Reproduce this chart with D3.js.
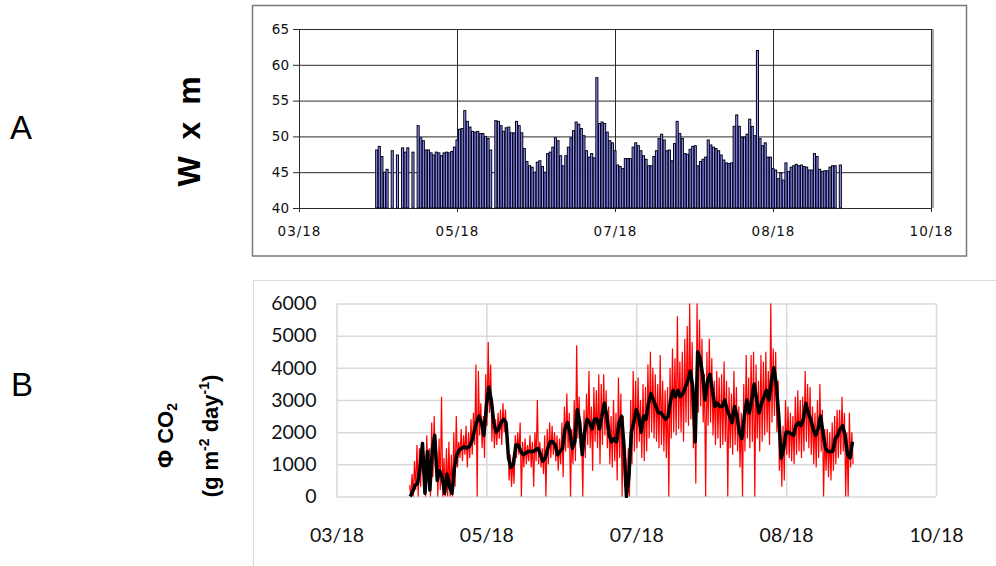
<!DOCTYPE html>
<html><head><meta charset="utf-8">
<script src="https://cdn.jsdelivr.net/npm/d3@7"></script>
<style>html,body{margin:0;padding:0;background:#fff;} svg{display:block;}</style>
</head><body>
<svg id="c" width="996" height="566"></svg>
<script>
// ---------- data ----------
const startDate = "2018-03-31";           // first day of both series
const xTickDates = ["2018-03-01","2018-05-01","2018-07-01","2018-08-31","2018-10-31"];
const xTickLabels = ["03/18","05/18","07/18","08/18","10/18"];
const yTicksA = [40,45,50,55,60,65];
const yTicksB = [0,1000,2000,3000,4000,5000,6000];

// Panel A: W x m, daily bars (null = no bar)
const wxm = [
 48.1,48.6,47.2,45.0,45.4,null,48.0,null,47.4,null,
 48.4,47.8,48.4,null,47.8,null,51.5,49.8,49.4,48.1,
 48.1,47.7,47.4,47.8,47.7,47.3,47.7,47.8,47.7,47.9,
 48.5,49.5,51.0,51.1,53.6,52.1,51.3,50.7,50.6,50.7,
 50.4,50.4,50.0,49.7,48.1,null,52.2,52.1,51.5,50.7,
 51.2,51.3,50.5,50.5,52.1,51.5,50.5,48.3,46.5,45.9,
 45.7,45.0,46.4,46.6,45.8,45.0,47.6,47.8,48.5,49.8,
 49.4,47.3,45.9,47.3,48.5,49.8,50.8,52.0,51.7,51.1,
 50.1,48.0,47.1,47.6,47.0,58.2,51.8,52.0,51.8,50.6,
 49.4,49.1,48.0,46.0,45.8,45.5,46.9,46.9,46.9,48.5,
 49.1,48.7,48.0,47.3,46.8,45.9,45.9,47.2,48.0,49.7,
 50.3,49.5,48.0,48.1,46.6,49.0,52.1,50.4,49.7,47.6,
 47.5,48.2,48.6,48.7,45.9,46.5,46.8,47.1,49.5,48.8,
 48.5,48.3,48.0,47.4,46.7,46.3,46.2,46.3,51.4,53.0,
 51.4,49.9,49.9,50.3,52.4,51.4,50.1,62.0,49.7,48.7,
 49.1,47.1,47.1,45.5,45.3,44.1,44.9,43.9,46.3,45.1,
 45.7,45.9,46.1,45.9,46.0,45.8,45.7,45.3,45.3,47.6,
 47.2,45.4,45.1,45.2,45.2,45.7,45.9,45.9,null,46.0
];

// Panel B: CO2 flux, daily smoothed mean (black)
const fluxMean = [
 0,150,350,400,900,1650,100,1400,200,1450,
 1900,500,800,600,100,700,300,100,900,1300,
 1450,1500,1550,1500,1550,1700,2000,2300,2500,2300,
 1900,2800,3400,3000,2300,2000,2100,2300,2400,2300,
 1200,900,1000,1600,1600,1400,1300,1350,1400,1400,
 1400,1450,1500,1300,1100,1200,1500,1700,1700,1600,
 1300,1400,1500,2100,2300,2000,1500,1700,2700,2300,
 1300,2000,2400,2300,2100,2400,2400,2100,2500,2900,
 2500,1900,1700,1800,1700,2300,2500,1600,0,600,
 2000,2300,2700,2500,2000,2500,2400,2900,3200,3000,
 2800,2600,2600,2500,2400,2500,3000,3300,3100,3300,
 3100,3200,3400,3600,3900,3400,1700,4500,4300,3800,
 3000,3600,3800,3300,2800,2900,2800,2800,3000,2700,
 2500,2300,2800,2500,2000,1800,2500,3000,2600,3000,
 3500,3000,2600,2900,3100,3300,3000,3600,4000,3500,
 2500,1200,1500,2000,2000,1950,1900,2200,2300,2200,
 2400,2900,2600,2400,2100,1900,2100,2500,2000,1500,
 1400,1400,1400,1800,1900,2100,2200,1900,1300,1200,1700
];
// Panel B: raw flux (red), daily upper and lower excursions
const fluxHigh = [
 350,700,1100,1600,1500,1700,1300,1900,1500,2300,
 2500,1400,1800,3100,1200,1500,1700,1300,2000,2500,
 1700,2100,1900,2200,2000,2400,2600,4100,3900,2900,
 2500,3800,4800,4100,2800,2400,2600,2700,2900,2700,
 1800,1300,1200,1900,2000,2300,1700,1800,1600,1900,
 1700,2000,3000,1700,1500,1900,2100,2300,2200,2000,
 1900,1800,2300,2800,3200,2600,2100,3000,4700,3100,
 2000,2700,3200,3900,2800,3400,3300,3800,3500,3800,
 3300,2800,2500,3000,2600,3700,3200,2500,1200,1500,
 3000,3900,3600,3700,3000,3500,3400,4100,4500,4000,
 3800,3500,4400,3600,3300,3400,4000,4600,4300,5600,
 4200,4500,4900,5300,6000,4800,3000,6000,5500,4900,
 3800,4500,4900,4300,3600,3900,3700,3800,4200,3600,
 3400,3200,3900,3400,2800,2600,3500,4400,3700,4400,
 4500,4100,3600,4400,4200,4500,3900,6000,4600,4500,
 3600,1900,2200,3000,2800,2600,2500,3100,3300,3000,
 3100,3900,3500,3400,2800,2600,3000,3500,2700,2100,
 2100,2000,2300,2500,2700,2700,3100,2600,2000,2600,2000
];
const fluxLow = [
 0,0,200,0,300,700,0,500,0,600,
 900,0,200,0,0,0,0,0,300,900,
 1200,1100,1300,900,1200,1300,1600,0,1900,1500,
 1200,2200,2600,1700,1500,1600,1800,1600,2000,1900,
 500,300,400,1200,1300,0,900,1000,1100,900,
 300,1100,1000,900,700,0,1000,1200,1300,1100,
 800,1000,600,1400,1500,0,1000,1100,1800,1500,
 0,1200,1600,1500,800,1700,1500,1000,1600,1900,
 1500,1000,900,1100,500,1200,0,300,0,0,
 1000,1400,1500,1700,1200,1100,1400,1800,2000,1800,
 1700,1500,1600,1400,1200,0,1800,2000,1900,2100,
 2000,1700,2300,2200,2400,1500,400,2600,2800,2300,
 0,2200,2300,1900,1600,1800,1500,1600,1700,0,
 1500,1300,1600,1400,900,0,1400,1800,1500,1700,
 0,1800,1400,1700,1900,2000,1600,2300,2500,2000,
 800,300,500,1300,1200,1100,1000,1300,1400,1200,
 1400,1700,1500,1300,1000,900,1200,1400,0,800,
 600,500,800,1000,1200,1300,1400,0,0,900,1000
];

// ---------- drawing ----------
const svg = d3.select("#c");
const parse = d3.utcParse("%Y-%m-%d");
const t0 = parse(startDate);
const dayOf = i => d3.utcDay.offset(t0, i);
const tickDates = xTickDates.map(parse);
const labelOf = d => xTickLabels[tickDates.findIndex(t => +t === +d)];
const domainX = [tickDates[0], tickDates[tickDates.length - 1]];

// ===== Panel A =====
const xA = d3.scaleUtc().domain(domainX).range([299, 931]);
const yA = d3.scaleLinear().domain([40, 65]).range([208, 29]);
const gA = svg.append("g");
gA.append("rect").attr("x", 252.5).attr("y", 5.5).attr("width", 714).attr("height", 250.5)
  .attr("fill", "none").attr("stroke", "#7a7a7a").attr("stroke-width", 1.5);

const fontA = "DejaVu Sans, Verdana, sans-serif";
gA.append("g").attr("transform", "translate(299,0)")
  .call(d3.axisLeft(yA).tickValues(yTicksA).tickSize(-632).tickSizeOuter(0).tickPadding(10))
  .call(g => g.select(".domain").remove())
  .call(g => g.selectAll(".tick line").attr("stroke", "#2a2a2a").attr("x1", -6))
  .call(g => g.selectAll(".tick text").attr("font-family", fontA)
     .attr("font-size", 13.5).attr("fill", "#111"));
gA.append("g").attr("transform", "translate(0,208)")
  .call(d3.axisBottom(xA).tickValues(tickDates).tickFormat(labelOf).tickSize(4).tickPadding(14))
  .call(g => g.select(".domain").attr("stroke", "#2a2a2a"))
  .call(g => g.selectAll(".tick line").attr("stroke", "#2a2a2a").attr("y1", -179))
  .call(g => g.selectAll(".tick text").attr("font-family", fontA)
     .attr("font-size", 13.5).attr("letter-spacing", 1).attr("fill", "#111"));
gA.append("line").attr("x1", 933).attr("x2", 933).attr("y1", 29).attr("y2", 208)
  .attr("stroke", "#555").attr("stroke-width", 1);

const bw = (xA(dayOf(1)) - xA(dayOf(0))) * 0.8;
gA.append("g").selectAll("rect").data(wxm.map((v, i) => ({v, d: dayOf(i)})).filter(o => o.v != null))
  .join("rect")
  .attr("x", o => xA(o.d) - bw / 2).attr("width", bw)
  .attr("y", o => yA(o.v)).attr("height", o => yA(40) - yA(o.v))
  .attr("fill", "#9999ff").attr("stroke", "#000018").attr("stroke-width", 1);

// ===== Panel B =====
const xB = d3.scaleUtc().domain(domainX).range([336.5, 936]);
const yB = d3.scaleLinear().domain([0, 6000]).range([496.5, 303.5]);
const gB = svg.append("g");
const frameC = "#d9d9d9";
const fontB = "Lato, Roboto, sans-serif";
gB.append("line").attr("x1", 253).attr("x2", 996).attr("y1", 280.5).attr("y2", 280.5).attr("stroke", frameC).attr("stroke-width", 1.2);
gB.append("line").attr("x1", 253.5).attr("x2", 253.5).attr("y1", 280).attr("y2", 566).attr("stroke", frameC).attr("stroke-width", 1.2);

gB.append("g").attr("transform", "translate(336.5,0)")
  .call(d3.axisLeft(yB).tickValues(yTicksB).tickSize(-599.5).tickPadding(20).tickFormat(d3.format("d")))
  .call(g => g.select(".domain").remove())
  .call(g => g.selectAll(".tick line").attr("stroke", frameC).attr("stroke-width", 1.5))
  .call(g => g.selectAll(".tick text").attr("font-family", fontB)
     .attr("font-size", 19.5).attr("fill", "#111"));
gB.append("g").attr("transform", "translate(0,496.5)")
  .call(d3.axisBottom(xB).tickValues(tickDates).tickFormat(labelOf).tickSize(0).tickPadding(32))
  .call(g => g.select(".domain").remove())
  .call(g => g.selectAll(".tick line").attr("stroke", frameC).attr("stroke-width", 1.5).attr("y1", -193))
  .call(g => g.selectAll(".tick text").attr("font-family", fontB)
     .attr("font-size", 19.5).attr("fill", "#111"));

svg.append("clipPath").attr("id", "clipB").append("rect")
  .attr("x", 336.5).attr("y", 302).attr("width", 599.5).attr("height", 196);

const redPts = [];
fluxHigh.forEach((h, i) => {
  redPts.push({d: d3.utcHour.offset(dayOf(i), -6), v: h});
  redPts.push({d: d3.utcHour.offset(dayOf(i), 6), v: fluxLow[i]});
});
gB.append("path").datum(redPts).attr("clip-path", "url(#clipB)")
  .attr("d", d3.line().x(p => xB(p.d)).y(p => yB(p.v)))
  .attr("fill", "none").attr("stroke", "#ff0000").attr("stroke-width", 1.2);
gB.append("path").datum(fluxMean.map((v, i) => ({d: dayOf(i), v}))).attr("clip-path", "url(#clipB)")
  .attr("d", d3.line().x(p => xB(p.d)).y(p => yB(p.v)))
  .attr("fill", "none").attr("stroke", "#000").attr("stroke-width", 3.5).attr("stroke-linejoin", "round");

// ===== labels =====
const sans = "Liberation Sans, Arial, sans-serif";
svg.append("text").attr("x", 10).attr("y", 139).attr("font-family", sans).attr("font-size", 33).text("A");
svg.append("text").attr("x", 11).attr("y", 396).attr("font-family", sans).attr("font-size", 33).text("B");
svg.append("text").attr("transform", "translate(200,131.5) rotate(-90)").attr("text-anchor", "middle")
  .attr("font-family", sans).attr("font-weight", "bold").attr("font-size", 32).attr("word-spacing", 8)
  .text("W x m");
const l1 = svg.append("text").attr("transform", "translate(173,435.5) rotate(-90)").attr("text-anchor", "middle")
  .attr("font-family", sans).attr("font-weight", "bold").attr("font-size", 22);
l1.append("tspan").text("Φ CO");
l1.append("tspan").attr("font-size", 14).attr("dy", 4).text("2");
const l2 = svg.append("text").attr("transform", "translate(218,436) rotate(-90)").attr("text-anchor", "middle")
  .attr("font-family", sans).attr("font-weight", "bold").attr("font-size", 22);
l2.append("tspan").text("(g m");
l2.append("tspan").attr("font-size", 14).attr("dy", -9).text("-2");
l2.append("tspan").attr("dy", 9).text(" day");
l2.append("tspan").attr("font-size", 14).attr("dy", -9).text("-1");
l2.append("tspan").attr("dy", 9).text(")");
</script>
</body></html>
